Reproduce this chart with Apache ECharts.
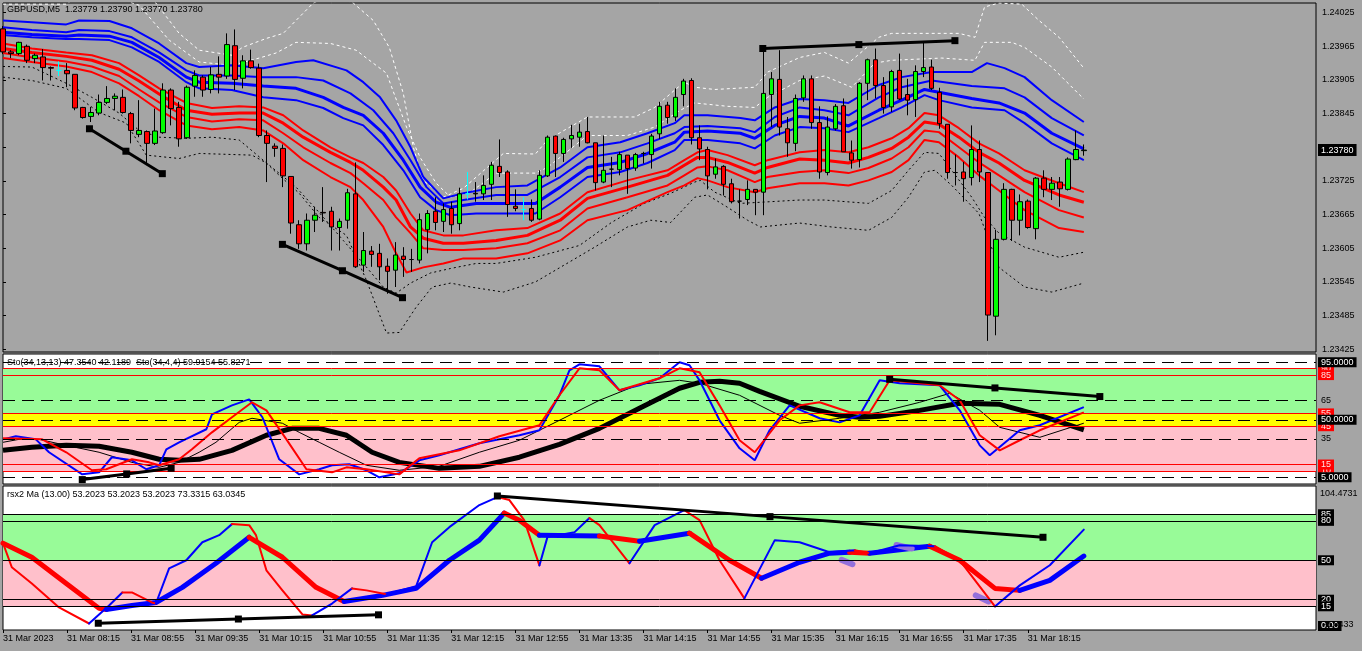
<!DOCTYPE html>
<html><head><meta charset="utf-8">
<script src="https://cdn.jsdelivr.net/npm/echarts/dist/echarts.min.js"></script>
<style>html,body{margin:0;padding:0;background:#A5A5A5}#c{width:1362px;height:651px}</style>
</head><body><div id="c"></div>
<script>
// ---------- price bars (GBPUSD M5, 31 Mar 2023, from 07:35) ----------
const opens=[1.23996,1.23955,1.23952,1.23965,1.23943,1.23946,1.23927,1.23922,1.23922,1.23915,1.23856,1.23840,1.23846,1.23865,1.23872,1.23874,1.23845,1.23808,1.23813,1.23792,1.23811,1.23887,1.23856,1.23802,1.23894,1.23910,1.23888,1.23915,1.23912,1.23966,1.23908,1.23939,1.23926,1.23806,1.23787,1.23783,1.23733,1.23647,1.23613,1.23655,1.23669,1.23671,1.23642,1.23655,1.23702,1.23575,1.23600,1.23596,1.23573,1.23566,1.23591,1.23585,1.23584,1.23638,1.23671,1.23653,1.23676,1.23649,1.23702,1.23703,1.23702,1.23719,1.23751,1.23741,1.23680,1.23674,1.23676,1.23657,1.23734,1.23805,1.23774,1.23800,1.23803,1.23813,1.23793,1.23723,1.23746,1.23745,1.23771,1.23748,1.23774,1.23772,1.23809,1.23860,1.23839,1.23879,1.23904,1.23802,1.23781,1.23737,1.23751,1.23720,1.23689,1.23692,1.23710,1.23705,1.23879,1.23906,1.23818,1.23792,1.23873,1.23907,1.23829,1.23740,1.23818,1.23859,1.23775,1.23763,1.23899,1.23941,1.23895,1.23857,1.23922,1.23879,1.23870,1.23920,1.23928,1.23883,1.23826,1.23740,1.23741,1.23731,1.23781,1.23740,1.23484,1.23621,1.23710,1.23655,1.23689,1.23640,1.23730,1.23710,1.23723,1.23710,1.23763,1.23779];
const highs=[1.24001,1.23958,1.23973,1.23968,1.23952,1.23960,1.23929,1.23938,1.23935,1.23915,1.23857,1.23857,1.23879,1.23894,1.23881,1.23888,1.23848,1.23869,1.23815,1.23854,1.23899,1.23890,1.23866,1.23895,1.23922,1.23913,1.23928,1.23947,1.23988,1.23995,1.23949,1.23959,1.23934,1.23815,1.23792,1.23790,1.23733,1.23655,1.23667,1.23679,1.23714,1.23679,1.23658,1.23711,1.23758,1.23634,1.23609,1.23613,1.23587,1.23616,1.23607,1.23604,1.23667,1.23673,1.23696,1.23685,1.23688,1.23713,1.23741,1.23723,1.23735,1.23759,1.23799,1.23744,1.23710,1.23696,1.23692,1.23744,1.23806,1.23806,1.23802,1.23825,1.23827,1.23839,1.23793,1.23806,1.23768,1.23777,1.23771,1.23775,1.23777,1.23809,1.23866,1.23866,1.23890,1.23907,1.23908,1.23824,1.23786,1.23765,1.23753,1.23729,1.23710,1.23726,1.23710,1.23964,1.23919,1.23958,1.23839,1.23879,1.23913,1.23913,1.23858,1.23840,1.23862,1.23872,1.23797,1.23901,1.23943,1.23961,1.23910,1.23923,1.23952,1.23907,1.23931,1.23971,1.23941,1.23891,1.23826,1.23772,1.23759,1.23824,1.23797,1.23740,1.23638,1.23721,1.23711,1.23701,1.23692,1.23732,1.23744,1.23732,1.23732,1.23767,1.23815,1.23790];
const lows=[1.23951,1.23944,1.23949,1.23935,1.23935,1.23904,1.23904,1.23912,1.23892,1.23851,1.23836,1.23830,1.23842,1.23862,1.23851,1.23845,1.23792,1.23803,1.23756,1.23789,1.23809,1.23824,1.23786,1.23800,1.23875,1.23875,1.23881,1.23881,1.23907,1.23887,1.23890,1.23925,1.23803,1.23723,1.23768,1.23714,1.23631,1.23604,1.23601,1.23634,1.23652,1.23601,1.23601,1.23640,1.23570,1.23563,1.23572,1.23548,1.23524,1.23536,1.23554,1.23563,1.23578,1.23596,1.23637,1.23634,1.23631,1.23637,1.23692,1.23688,1.23691,1.23691,1.23732,1.23661,1.23671,1.23655,1.23652,1.23655,1.23732,1.23732,1.23759,1.23784,1.23786,1.23792,1.23708,1.23721,1.23714,1.23735,1.23702,1.23743,1.23756,1.23747,1.23800,1.23827,1.23832,1.23858,1.23790,1.23762,1.23710,1.23729,1.23699,1.23685,1.23658,1.23682,1.23664,1.23664,1.23821,1.23806,1.23768,1.23778,1.23866,1.23818,1.23729,1.23735,1.23815,1.23777,1.23747,1.23749,1.23869,1.23872,1.23845,1.23848,1.23869,1.23842,1.23839,1.23910,1.23887,1.23818,1.23729,1.23717,1.23688,1.23717,1.23723,1.23440,1.23450,1.23619,1.23618,1.23628,1.23640,1.23621,1.23696,1.23691,1.23679,1.23708,1.23762,1.23770];
const closes=[1.23955,1.23952,1.23972,1.23940,1.23949,1.23927,1.23926,1.23922,1.23916,1.23855,1.23838,1.23847,1.23865,1.23872,1.23876,1.23847,1.23815,1.23815,1.23792,1.23814,1.23887,1.23854,1.23800,1.23892,1.23913,1.23887,1.23914,1.23910,1.23968,1.23906,1.23939,1.23927,1.23806,1.23792,1.23783,1.23734,1.23650,1.23613,1.23655,1.23664,1.23668,1.23643,1.23653,1.23704,1.23572,1.23601,1.23594,1.23572,1.23564,1.23593,1.23585,1.23585,1.23656,1.23667,1.23651,1.23674,1.23647,1.23702,1.23702,1.23702,1.23717,1.23753,1.23740,1.23683,1.23676,1.23674,1.23655,1.23735,1.23803,1.23774,1.23799,1.23806,1.23812,1.23793,1.23722,1.23744,1.23746,1.23772,1.23747,1.23772,1.23774,1.23805,1.23858,1.23838,1.23874,1.23903,1.23802,1.23782,1.23734,1.23750,1.23719,1.23688,1.23689,1.23710,1.23705,1.23881,1.23907,1.23821,1.23793,1.23872,1.23907,1.23829,1.23741,1.23821,1.23858,1.23777,1.23762,1.23899,1.23941,1.23895,1.23856,1.23920,1.23871,1.23869,1.23920,1.23927,1.23890,1.23827,1.23740,1.23740,1.23729,1.23781,1.23741,1.23486,1.23621,1.23710,1.23655,1.23688,1.23642,1.23730,1.23710,1.23721,1.23711,1.23764,1.23781,1.23780];
const cyanBars=[7,58,65];
const lastPrice=1.23780;
const priceTicks=[1.23425,1.23485,1.23545,1.23605,1.23665,1.23725,1.23845,1.23905,1.23965,1.24025];
const xTickLabels=['31 Mar 2023','31 Mar 08:15','31 Mar 08:55','31 Mar 09:35','31 Mar 10:15','31 Mar 10:55','31 Mar 11:35','31 Mar 12:15','31 Mar 12:55','31 Mar 13:35','31 Mar 14:15','31 Mar 14:55','31 Mar 15:35','31 Mar 16:15','31 Mar 16:55','31 Mar 17:35','31 Mar 18:15'];

// ---------- price-panel bands [bar, price] ----------
const blue1=[[0,1.24011],[3.6,1.24008],[7.9,1.24004],[9.5,1.24011],[13.3,1.24010],[16.1,1.23997],[19.5,1.23970],[22.9,1.23935],[24.5,1.23928],[28.6,1.23931],[32.5,1.23926],[36.6,1.23937],[38.75,1.23940],[42.9,1.23922],[45,1.23901],[47.1,1.23874],[49.1,1.23833],[50.9,1.23785],[52.5,1.23732],[55,1.23694],[57.5,1.23703],[61.6,1.23714],[65.5,1.23717],[69.6,1.23749],[73,1.23785],[77.1,1.23794],[80.5,1.23810],[83.9,1.23828],[85.1,1.23842],[88,1.23842],[92.1,1.23837],[93.9,1.23833],[96.4,1.23856],[99.5,1.23871],[102.6,1.23869],[105.6,1.23864],[109.4,1.23896],[112.25,1.23910],[116,1.23919],[121,1.23919],[122.9,1.23935],[125.1,1.23926],[127.6,1.23910],[131,1.23869],[135,1.23830]];
const blue2=[[0,1.23999],[3.6,1.23994],[7.9,1.23990],[9.5,1.23994],[13.3,1.23992],[16.1,1.23981],[19.5,1.23954],[22.9,1.23922],[24.5,1.23913],[28.6,1.23913],[32.5,1.23910],[36.6,1.23910],[40,1.23904],[43.4,1.23881],[46.25,1.23851],[48.75,1.23810],[50.9,1.23762],[52.9,1.23714],[55,1.23685],[57.5,1.23691],[61.6,1.23700],[65.5,1.23700],[69.6,1.23732],[73,1.23767],[77.1,1.23776],[80.5,1.23792],[83.9,1.23810],[85.1,1.23821],[88,1.23823],[92.1,1.23819],[93.9,1.23812],[96.4,1.23839],[99.5,1.23856],[102.6,1.23851],[105.6,1.23842],[109.4,1.23874],[112.25,1.23892],[116,1.23904],[121,1.23894],[125.1,1.23890],[127.6,1.23874],[131,1.23837],[135,1.23806]];
const blue3=[[0,1.23990],[3.6,1.23986],[7.9,1.23983],[9.5,1.23985],[13.3,1.23983],[16.1,1.23972],[19.5,1.23945],[22.9,1.23910],[24.5,1.23901],[28.6,1.23899],[32.5,1.23894],[36.6,1.23890],[40,1.23874],[42.5,1.23856],[45,1.23842],[47.5,1.23810],[50,1.23762],[52.1,1.23714],[54.1,1.23687],[55.9,1.23678],[59.1,1.23685],[66.5,1.23685],[69.6,1.23714],[73,1.23749],[77.1,1.23758],[80.5,1.23774],[83.9,1.23794],[85.1,1.23812],[88,1.23814],[92.1,1.23810],[93.9,1.23801],[96.4,1.23824],[99.5,1.23840],[102.6,1.23837],[105.6,1.23823],[109.4,1.23851],[112.25,1.23869],[115.1,1.23888],[116.9,1.23883],[121,1.23872],[124.4,1.23864],[127.6,1.23846],[131,1.23810],[135,1.23782]];
const blue4=[[0,1.23985],[3.6,1.23981],[7.9,1.23978],[9.5,1.23978],[13.3,1.23976],[16.1,1.23963],[19.5,1.23937],[22.9,1.23901],[24.5,1.23890],[28.6,1.23887],[32.5,1.23874],[36.6,1.23869],[40,1.23855],[42.5,1.23837],[45,1.23824],[47.5,1.23789],[50,1.23744],[52.1,1.23696],[54.1,1.23673],[55.9,1.23664],[59.1,1.23667],[66.5,1.23667],[69.6,1.23696],[73,1.23732],[77.1,1.23741],[80.5,1.23757],[83.9,1.23780],[85.1,1.23798],[88,1.23798],[92.1,1.23792],[93.9,1.23783],[96.4,1.23806],[99.5,1.23821],[102.6,1.23819],[105.6,1.23812],[109.4,1.23837],[112.25,1.23856],[115.1,1.23878],[116.9,1.23869],[121,1.23856],[125.1,1.23851],[127.6,1.23828],[131,1.23792],[135,1.23762]];
const red1=[[0,1.23970],[3.6,1.23961],[7.9,1.23954],[11.1,1.23949],[14.5,1.23935],[17,1.23913],[19.5,1.23890],[22.9,1.23864],[26.1,1.23855],[29.5,1.23858],[32.5,1.23856],[35,1.23842],[37.5,1.23815],[40.9,1.23785],[43.4,1.23767],[45,1.23757],[47.5,1.23732],[49.1,1.23708],[50.9,1.23667],[52.5,1.23637],[55,1.23628],[57.5,1.23628],[61.6,1.23637],[65.5,1.23641],[69.6,1.23667],[73,1.23705],[78,1.23726],[83,1.23744],[85.1,1.23762],[86.75,1.23776],[88,1.23780],[90.5,1.23771],[93.9,1.23753],[95.5,1.23762],[99.5,1.23776],[102.6,1.23780],[105.6,1.23776],[108.1,1.23785],[111,1.23801],[113.1,1.23819],[115.1,1.23846],[116.9,1.23842],[119.4,1.23819],[121.9,1.23792],[124.4,1.23774],[127.6,1.23744],[131.9,1.23721],[135,1.23705]];
const red2=[[0,1.23961],[3.6,1.23954],[7.9,1.23947],[11.1,1.23940],[14.5,1.23924],[17,1.23903],[19.5,1.23880],[22.9,1.23851],[26.1,1.23844],[29.5,1.23846],[32.5,1.23846],[35,1.23828],[37.5,1.23803],[40.9,1.23776],[43.4,1.23758],[45,1.23744],[47.5,1.23714],[49.1,1.23691],[50.9,1.23643],[52.5,1.23623],[55,1.23614],[57.5,1.23614],[61.6,1.23619],[65.5,1.23628],[69.6,1.23655],[73,1.23694],[78,1.23714],[83,1.23735],[85.1,1.23753],[86.75,1.23767],[88,1.23767],[90.5,1.23758],[93.9,1.23739],[95.5,1.23749],[99.5,1.23764],[102.6,1.23762],[105.6,1.23757],[108.1,1.23767],[111,1.23783],[113.1,1.23803],[115.1,1.23830],[116.9,1.23826],[119.4,1.23803],[121.9,1.23776],[124.4,1.23757],[127.6,1.23726],[131.9,1.23700],[135,1.23687]];
const red3=[[0,1.23953],[3.6,1.23945],[7.9,1.23938],[11.1,1.23929],[14.5,1.23912],[17,1.23888],[19.5,1.23865],[22.9,1.23839],[26.1,1.23831],[29.5,1.23835],[32.5,1.23833],[35,1.23810],[37.5,1.23785],[40.9,1.23757],[43.4,1.23739],[45,1.23721],[47.5,1.23691],[49.1,1.23660],[50.9,1.23632],[52.5,1.23605],[55,1.23602],[57.5,1.23602],[61.6,1.23605],[65.5,1.23614],[69.6,1.23637],[73,1.23676],[78,1.23696],[83,1.23717],[85.1,1.23735],[86.75,1.23749],[88,1.23751],[90.5,1.23744],[93.9,1.23723],[95.5,1.23732],[99.5,1.23741],[102.6,1.23744],[105.6,1.23739],[108.1,1.23748],[111,1.23765],[113.1,1.23785],[115.1,1.23815],[116.9,1.23812],[119.4,1.23785],[121.9,1.23758],[124.4,1.23735],[127.6,1.23705],[131.9,1.23673],[135,1.23660]];
const red4=[[0,1.23944],[3.6,1.23937],[7.9,1.23929],[11.1,1.23919],[14.5,1.23899],[17,1.23876],[19.5,1.23851],[22.9,1.23824],[26.1,1.23817],[29.5,1.23821],[32.5,1.23815],[35,1.23792],[37.5,1.23762],[40.9,1.23732],[43.4,1.23714],[45,1.23691],[47.5,1.23643],[49.1,1.23596],[50.4,1.23562],[52.5,1.23571],[55,1.23578],[57.5,1.23587],[61.6,1.23587],[65.5,1.23596],[69.6,1.23619],[73,1.23655],[78,1.23673],[83,1.23705],[85.1,1.23717],[86.75,1.23730],[88,1.23726],[90.5,1.23714],[93.9,1.23705],[95.5,1.23712],[99.5,1.23721],[102.6,1.23721],[105.6,1.23717],[108.1,1.23726],[111,1.23741],[113.1,1.23762],[115.1,1.23798],[116.9,1.23794],[119.4,1.23767],[121.9,1.23735],[124.4,1.23708],[127.6,1.23673],[131.9,1.23641],[135,1.23634]];
const lowEnv1=[[0,1.23929],[3.6,1.23928],[7.9,1.23899],[11.1,1.23874],[14.5,1.23846],[17,1.23815],[19.5,1.23803],[22.9,1.23801],[26.1,1.23803],[29.5,1.23798],[32.5,1.23762],[36.6,1.23714],[39.6,1.23667],[42.5,1.23619],[45,1.23578],[47.5,1.23536],[49.1,1.23525],[50.9,1.23543],[53.4,1.23561],[55.9,1.23569],[59.1,1.23578],[61.6,1.23578],[66.5,1.23589],[72,1.23610],[76,1.23651],[80.1,1.23685],[83.4,1.23703],[86.4,1.23723],[87.1,1.23726],[88.9,1.23705],[92.1,1.23685],[99.5,1.23691],[102.6,1.23691],[108.1,1.23685],[111,1.23708],[113.1,1.23744],[115.1,1.23776],[116.9,1.23774],[118.5,1.23744],[121,1.23696],[122.6,1.23660],[124.4,1.23632],[127.6,1.23607],[131.9,1.23589],[135,1.23598]];
const lowEnv2=[[0,1.23910],[3.6,1.23904],[7.9,1.23890],[12,1.23847],[15.4,1.23828],[17.9,1.23771],[22,1.23765],[24.5,1.23774],[31.1,1.23771],[32.9,1.23757],[34.5,1.23735],[37,1.23703],[39.5,1.23660],[42.9,1.23628],[45.4,1.23548],[47.9,1.23454],[49.5,1.23455],[51.6,1.23500],[53.6,1.23536],[55.9,1.23543],[58.4,1.23536],[62.5,1.23527],[66.5,1.23545],[73.9,1.23607],[78,1.23643],[80.9,1.23655],[83.4,1.23651],[86.4,1.23696],[88,1.23700],[90.5,1.23678],[93,1.23655],[94.6,1.23643],[99.5,1.23650],[103.5,1.23643],[108.1,1.23637],[111,1.23660],[113.1,1.23696],[115.1,1.23741],[116.4,1.23744],[118.5,1.23717],[121.9,1.23667],[124.4,1.23571],[127.6,1.23536],[131,1.23527],[135,1.23543]];
const upEnv1=[[0,1.24065],[17,1.24065],[19.1,1.24042],[22,1.23988],[24.5,1.23958],[28.6,1.23949],[29.9,1.23963],[32.9,1.23979],[35,1.23988],[36.6,1.24011],[38.75,1.24042],[41.25,1.24056],[43.75,1.24042],[46.25,1.24011],[48.25,1.23963],[50,1.23881],[51.25,1.23785],[52.5,1.23726],[55,1.23696],[57.5,1.23712],[62.5,1.23774],[66.5,1.23773],[68,1.23798],[73,1.23839],[78.9,1.23839],[81.4,1.23856],[83.9,1.23887],[85.1,1.23901],[86.4,1.23892],[88.9,1.23888],[93.9,1.23892],[95.5,1.23919],[99.5,1.23945],[102.6,1.23954],[105.6,1.23935],[109.4,1.23981],[111,1.23988],[119.4,1.23988],[121.4,1.23981],[122.6,1.24035],[124.4,1.24042],[127.25,1.24040],[129.4,1.24011],[131.9,1.23981],[135,1.23926]];
const upEnv2=[[0,1.24040],[7.9,1.24040],[9.5,1.24056],[13.3,1.24056],[17,1.24038],[20.75,1.23976],[24.5,1.23937],[28.6,1.23931],[32,1.23944],[34.1,1.23953],[36.6,1.23972],[40.9,1.23970],[44.1,1.23958],[47.9,1.23917],[50.4,1.23821],[52.1,1.23767],[54.1,1.23721],[55.9,1.23696],[58.4,1.23705],[61.6,1.23739],[66.5,1.23739],[68,1.23749],[73,1.23806],[78,1.23806],[81.4,1.23821],[84.6,1.23851],[86.4,1.23864],[90.5,1.23858],[93.9,1.23856],[95.5,1.23874],[99.5,1.23904],[102.6,1.23912],[106,1.23892],[108.9,1.23935],[111,1.23940],[117.25,1.23944],[121.4,1.23940],[122.6,1.23972],[126,1.23972],[127.6,1.23963],[131,1.23928],[135,1.23871]];
const priceTrend1=[[10.8,1.23818],[15.35,1.23778],[19.9,1.23738]];
const priceTrend2=[[34.9,1.23612],[42.4,1.23565],[49.9,1.23517]];
const priceTrend3=[[94.9,1.23961],[106.9,1.23968],[118.9,1.23975]];

// ---------- Stochastic panel ----------
const sto1Signal=[[0,26.1],[3.6,28.5],[7.9,30.0],[12,29.3],[16.1,24.6],[19.5,19.1],[22,18.3],[24.5,19.1],[28.6,26.1],[32.9,37.9],[36.1,43.3],[39.5,43.3],[42.9,37.9],[46.1,24.6],[49.5,16.7],[54.5,12.0],[59.5,13.6],[64.5,20.7],[69.5,30.8],[74.5,43.3],[79.5,59.0],[84.5,74.7],[87,79.3],[89.5,80.1],[92,78.6],[94.5,72.3],[99.5,60.6],[104.5,53.5],[107,52.0],[109.5,52.7],[114.5,57.4],[119.5,62.9],[124.5,62.1],[129.5,53.5],[135,42.1]];
const sto1Main=[[0,32.4],[2,34.7],[4.5,34.7],[7.9,30.0],[12,24.6],[16.1,16.7],[19.5,12.8],[22,16.7],[24.5,24.6],[26.6,32.4],[29.5,48.0],[31.1,51.2],[34.9,47.3],[37,40.2],[39.5,32.4],[42,24.6],[45.4,14.4],[49.5,10.5],[54.5,13.6],[59.5,24.6],[64.5,34.0],[69.5,49.6],[74.5,65.3],[79.5,77.8],[84.5,80.9],[87,78.6],[92,69.2],[97,53.5],[99.5,47.3],[104.5,51.2],[109.5,55.9],[114.5,63.7],[118.25,70.7],[122,57.4],[124.5,44.1],[129.5,36.3],[135,47.35]];
const sto2Main=[[0,34.7],[1.6,37.1],[4.1,34.7],[5.75,24.6],[9.9,7.3],[12,8.9],[13.6,20.7],[16.1,18.3],[17.9,11.3],[19.5,14.4],[20.4,26.9],[22,32.4],[25.4,42.6],[26.1,54.3],[28.6,61.3],[30.75,66.0],[32.4,52.0],[34.5,19.1],[37,7.3],[39.5,11.3],[41.1,14.4],[43.25,15.2],[45.4,10.5],[47,5.0],[49.5,8.1],[52,18.3],[54.5,22.2],[59.5,31.6],[64.5,37.9],[67,41.8],[69.5,69.2],[70.75,88.7],[72,93.4],[74.5,91.9],[77,73.1],[79.5,77.0],[82,82.5],[84.5,95.0],[85.75,92.7],[87,80.9],[89.5,49.6],[92,27.7],[93.9,18.3],[95.75,41.8],[98.25,61.3],[102,51.2],[104.5,48.0],[107,53.5],[109.5,80.9],[112,78.6],[117,77.0],[119.5,57.4],[122,30.0],[123.25,22.2],[127,41.8],[129.5,45.7],[135,59.9]];
const sto2Signal=[[0,35.5],[4.9,34.7],[7.9,24.6],[11.1,10.5],[12.9,11.3],[16.1,19.1],[18.25,16.7],[19.5,14.4],[22,19.1],[23.6,26.9],[26.1,40.2],[28.6,52.0],[31.1,63.7],[32.9,57.4],[35.4,34.7],[37.9,11.3],[41.1,8.9],[42.9,12.8],[45.4,11.3],[49.5,7.3],[52,19.9],[57,26.1],[62,37.1],[67,45.7],[69.5,69.2],[72,90.3],[74.5,88.7],[77,73.1],[82,82.5],[84.5,90.3],[87,87.2],[89.5,61.3],[92,34.0],[93.9,24.6],[97,49.6],[99.5,61.3],[102,63.7],[105.75,55.9],[108.25,55.9],[110.75,80.9],[117,77.0],[119.5,65.3],[122,37.9],[124.5,26.1],[127,34.0],[129.5,41.8],[135,55.8]];
const stoTrend1=[[9.9,3.2],[15.45,7.65],[21,12.1]];
const stoTrend2=[[110.75,81.7],[123.9,74.95],[137,68.2]];
const stoLevels=[90,85,55,45,50,95,65,35,10,15,5];

// ---------- RSX panel ([bar, value, colour of following segment]) ----------
const rsxMa=[[0,63.0,'r'],[3.6,52.3,'r'],[7.9,32.4,'r'],[12,13.4,'r'],[12.9,12.6,'b'],[16.1,15.6,'b'],[19.1,17.9,'b'],[22.4,29.4,'b'],[26.6,47.7,'b'],[30.75,67.5,'r'],[34.9,52.3,'r'],[39.1,29.4,'r'],[42.6,18.7,'b'],[47.4,23.3,'b'],[51.6,28.6,'b'],[55.75,50.0,'b'],[59.5,65.3,'b'],[62.6,85.9,'r'],[64.5,80.5,'r'],[67,69.1,'b'],[74.5,68.4,'r'],[79.5,64.5,'b'],[85.75,70.6,'r'],[90.75,50.0,'r'],[94.75,36.3,'b'],[99.5,48.5,'b'],[103.25,55.4,'b'],[105.75,56.1,'r'],[108.25,55.4,'b'],[115.75,60.7,'r'],[119.5,50.0,'r'],[123.9,28.6,'r'],[127,27.1,'b'],[130.75,34.7,'b'],[135,53.2,'b']];
const rsxLine=[[0,63.0,'r'],[1.1,44.7,'r'],[3.6,32.4,'r'],[7,14.1,'r'],[10.75,1.9,'b'],[13.25,15.6,'b'],[14.9,25.5,'r'],[16.1,25.5,'r'],[18.6,17.9,'r'],[19.1,17.1,'b'],[20.75,43.9,'b'],[22.9,50.0,'b'],[24.9,63.7,'b'],[27,69.1,'b'],[28.6,77.5,'r'],[30.75,76.7,'r'],[31.6,69.1,'r'],[32.9,42.4,'r'],[34.9,27.1,'r'],[37.4,8.8,'r'],[38.6,8.0,'b'],[41.1,17.1,'b'],[43.6,28.6,'r'],[45.4,27.1,'r'],[47.9,24.1,'b'],[51.6,30.2,'b'],[53.6,63.7,'b'],[55.75,75.2,'b'],[59.5,92.0,'b'],[61.75,98.1,'r'],[63.25,95.8,'r'],[65.1,80.5,'r'],[67,46.1,'b'],[68,67.6,'b'],[71.4,71.4,'b'],[73.25,82.1,'r'],[74.5,76.7,'r'],[78.25,47.7,'b'],[81.4,76.7,'b'],[85.1,88.2,'r'],[87,80.5,'r'],[89.5,50.0,'r'],[92.6,21.0,'b'],[96.4,65.3,'b'],[99.5,63.7,'b'],[103.25,56.1,'b'],[106.4,57.6,'r'],[108.25,55.4,'b'],[112,61.4,'b'],[116.4,60.7,'r'],[119.5,50.0,'r'],[123.9,14.9,'b'],[127,30.9,'b'],[130.75,46.2,'b'],[135,73.3,'b']];
const rsxFlatMarks=[[[104.75,50.3],[106.1,47.0]],[[111.6,61.6],[113.5,58.9]],[[121.5,23.3],[123.1,18.7]]];
const rsxTrend1=[[11.9,2.1],[29.4,5.3],[46.9,8.5]];
const rsxTrend2=[[61.75,98.9],[95.8,83.2],[129.9,67.5]];
const rsxLevels=[85,80,50,20,15];
const rsxMax=104.4731, rsxMin=-3.0433;

// ---------- build ----------
const N=165;
const cats=[];for(let i=0;i<N;i++){const t=455+5*i;cats.push(String(Math.floor(t/60)).padStart(2,'0')+':'+String(t%60).padStart(2,'0'));}
const FONT='Liberation Sans';
const L=3,W=1313;
const HIDE='rgba(0,0,0,0)';
const candleData=opens.map((o,i)=>{const v=[o,closes[i],lows[i],highs[i]];
  if(cyanBars.includes(i))return{value:v,itemStyle:{color:'#00FFFF',color0:'#00FFFF',borderColor:'#00FFFF',borderColor0:'#00FFFF'}};return v;});
function band(data,color,width,xi,yi,dash){return{type:'line',xAxisIndex:xi,yAxisIndex:yi,data:data,symbol:'none',silent:true,z:2,
  lineStyle:{color:color,width:width,type:dash||'solid'}};}
function trend(data,xi,yi){return{type:'line',xAxisIndex:xi,yAxisIndex:yi,data:data,symbol:'rect',symbolSize:7,showSymbol:true,silent:true,z:6,clip:false,
  lineStyle:{color:'#000',width:3},itemStyle:{color:'#000'}};}
function colouredRuns(pts,width,xi,yi,z){const out=[];let run=[pts[0]];let c=pts[0][2];
  for(let i=1;i<pts.length;i++){run.push(pts[i]);if(pts[i][2]!==c||i===pts.length-1){out.push({type:'line',xAxisIndex:xi,yAxisIndex:yi,symbol:'none',silent:true,z:z,
    data:run.map(p=>[p[0],p[1]]),lineStyle:{color:c==='r'?'#FF0000':'#0000FF',width:width,cap:'round',join:'round'}});run=[pts[i]];c=pts[i][2];}}
  return out;}

const blackBox={backgroundColor:'#000',color:'#fff',padding:[1,3,0,3]};
const redBox={backgroundColor:'#FF0000',color:'#FFE0E0',padding:[1,3,0,3]};
const plain={color:'#000',padding:[1,3,0,3]};
const stoStyle={95:['95.0000',blackBox,'dash'],90:['90',redBox,'red'],85:['85',redBox,'red'],65:['65',plain,'dash'],55:['55',redBox,'red'],50:['50.0000',blackBox,'dash'],45:['45',redBox,'red'],35:['35',plain,'dash'],15:['15',redBox,'red'],10:['10',redBox,'red'],5:['5.0000',blackBox,'dash']};
const stoMarkLines=stoLevels.map(v=>{const s=stoStyle[v];return{yAxis:v,
  lineStyle:s[2]==='red'?{color:'#FF0000',width:1,type:'solid'}:{color:'#000',width:1,type:[12,7]},
  label:Object.assign({show:true,position:'end',distance:2,formatter:s[0],fontSize:9,fontFamily:FONT},s[1])};});
const rsxMarkLines=[{yAxis:0,lineStyle:{color:HIDE},label:Object.assign({show:true,position:'end',distance:2,formatter:'0.00',fontSize:9,fontFamily:FONT},blackBox)}];
rsxLevels.forEach(v=>rsxMarkLines.push({yAxis:v,lineStyle:{color:'#000',width:1,type:'solid'},
  label:Object.assign({show:true,position:'end',distance:2,formatter:String(v),fontSize:9,fontFamily:FONT},blackBox)}));
rsxMarkLines.push({yAxis:rsxMax,lineStyle:{color:HIDE},label:{show:true,position:'end',distance:4,offset:[0,5],formatter:String(rsxMax),fontSize:9,fontFamily:FONT,color:'#000'}});
rsxMarkLines.push({yAxis:rsxMin,lineStyle:{color:HIDE},label:{show:true,position:'end',distance:7,offset:[0,-5],formatter:String(rsxMin),fontSize:9,fontFamily:FONT,color:'#000'}});

const series=[
  band(upEnv1,'#FFFFFF',1,1,0,[3,3]),band(upEnv2,'#FFFFFF',1,1,0,[3,3]),
  band(lowEnv1,'#000000',1,1,0,[2,3]),band(lowEnv2,'#000000',1,1,0,[2,3]),
  band(red4,'#FF0000',2,1,0),band(red3,'#FF0000',2,1,0),band(red2,'#FF0000',3,1,0),band(red1,'#FF0000',2,1,0),
  band(blue4,'#0000FF',2,1,0),band(blue3,'#0000FF',3,1,0),band(blue2,'#0000FF',2,1,0),band(blue1,'#0000FF',2,1,0),
  {type:'candlestick',xAxisIndex:0,yAxisIndex:0,data:candleData,barWidth:5,z:4,silent:true,
   itemStyle:{color:'#00FF00',color0:'#FF0000',borderColor:'#000',borderColor0:'#000',borderWidth:1}},
  {type:'line',xAxisIndex:1,yAxisIndex:0,data:[],z:7,clip:false,silent:true,
   markLine:{silent:true,precision:5,symbol:['none','none'],data:[{yAxis:lastPrice}],lineStyle:{color:HIDE,width:1},
     label:{show:true,position:'end',distance:2,formatter:lastPrice.toFixed(5),fontSize:9,fontFamily:FONT,backgroundColor:'#000',color:'#fff',padding:[2,3,1,3]}}},
  trend(priceTrend1,1,0),trend(priceTrend2,1,0),trend(priceTrend3,1,0),
  // stochastic
  {type:'line',xAxisIndex:2,yAxisIndex:1,data:[],z:1,clip:false,silent:true,
   markArea:{silent:true,data:[[{yAxis:55,itemStyle:{color:'#98FB98'}},{yAxis:90}],[{yAxis:45,itemStyle:{color:'#FFFF00'}},{yAxis:55}],[{yAxis:10,itemStyle:{color:'#FFC0CB'}},{yAxis:45}]]},
   markLine:{silent:true,precision:4,symbol:['none','none'],data:stoMarkLines}},
  band(sto1Signal,'#000',5,2,1),band(sto1Main,'#000',1,2,1),band(sto2Main,'#0000FF',2,2,1),band(sto2Signal,'#FF0000',2,2,1),
  trend(stoTrend1,2,1),trend(stoTrend2,2,1),
  // rsx
  {type:'line',xAxisIndex:3,yAxisIndex:2,data:[],z:1,clip:false,silent:true,
   markArea:{silent:true,data:[[{yAxis:50,itemStyle:{color:'#98FB98'}},{yAxis:85}],[{yAxis:15,itemStyle:{color:'#FFC0CB'}},{yAxis:50}]]},
   markLine:{silent:true,precision:4,symbol:['none','none'],data:rsxMarkLines}},
  ...colouredRuns(rsxMa,5,3,2,3),
  ...rsxFlatMarks.map(seg=>({type:'line',xAxisIndex:3,yAxisIndex:2,data:seg,symbol:'none',silent:true,z:3,lineStyle:{color:'#9370DB',width:6,cap:'round'}})),
  ...colouredRuns(rsxLine,2,3,2,4),
  trend(rsxTrend1,3,2),trend(rsxTrend2,3,2)
];

const option={animation:false,backgroundColor:'#A5A5A5',textStyle:{fontFamily:FONT,fontSize:9},
 grid:[{left:L,width:W,top:3,height:349,show:true,backgroundColor:'#A5A5A5',borderColor:'#000',borderWidth:1},
       {left:L,width:W,top:354,height:130,show:true,backgroundColor:'#FFFFFF',borderColor:'#000',borderWidth:1},
       {left:L,width:W,top:486,height:144,show:true,backgroundColor:'#FFFFFF',borderColor:'#000',borderWidth:1}],
 xAxis:[
  {type:'category',gridIndex:0,data:cats,boundaryGap:false,show:false},
  {type:'value',gridIndex:0,min:0,max:N-1,show:false},
  {type:'value',gridIndex:1,min:0,max:N-1,show:false},
  {type:'value',gridIndex:2,min:0,max:N-1,show:false},
  {type:'category',gridIndex:2,data:cats,boundaryGap:false,position:'bottom',axisLine:{show:false},splitLine:{show:false},
   axisTick:{show:true,length:3,interval:(i)=>i%8===0&&i<opens.length,lineStyle:{color:'#000'}},
   axisLabel:{show:true,interval:(i)=>i%8===0&&i<opens.length,formatter:(v,i)=>xTickLabels[i/8],align:'left',margin:4,color:'#000',fontSize:9,fontFamily:FONT}}
 ],
 yAxis:[
  {type:'value',gridIndex:0,position:'right',min:1.234202,max:1.240421,splitLine:{show:false},axisLine:{show:false},
   axisTick:{show:true,length:3,customValues:priceTicks.concat([1.23785]),lineStyle:{color:'#000'}},
   axisLabel:{show:true,customValues:priceTicks,formatter:v=>v.toFixed(5),margin:6,color:'#000',fontSize:9,fontFamily:FONT}},
  {type:'value',gridIndex:1,min:-0.24,max:101.5,show:false},
  {type:'value',gridIndex:2,min:rsxMin,max:106.5,show:false}
 ],
 graphic:[
  {type:'text',left:7,top:5,style:{text:'GBPUSD,M5  1.23779 1.23790 1.23770 1.23780',fill:'#000',font:'9px "Liberation Sans"'},z:100},
  {type:'text',left:7,top:358,style:{text:'Sto(34,13,13) 47.3540 42.1189  Sto(34,4,4) 59.9154 55.8271',fill:'#000',font:'9px "Liberation Sans"'},z:100},
  {type:'text',left:7,top:490,style:{text:'rsx2 Ma (13.00) 53.2023 53.2023 53.2023 73.3315 63.0345',fill:'#000',font:'9px "Liberation Sans"'},z:100}
 ],
 series:series};
const chart=echarts.init(document.getElementById('c'),null,{renderer:'canvas'});
chart.setOption(option);
</script></body></html>
